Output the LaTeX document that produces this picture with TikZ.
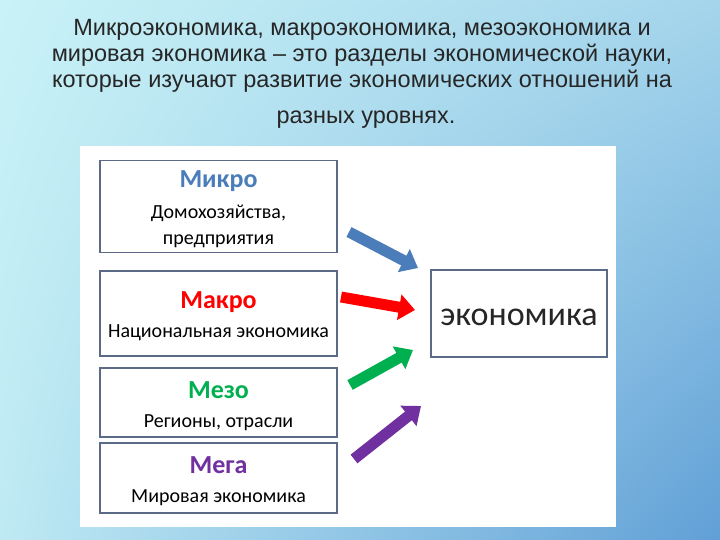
\documentclass[tikz,border=0pt]{standalone}
\usepackage{fontspec}
\setmainfont{Liberation Sans}
\newfontfamily\headfont{Liberation Sans}
\newfontfamily\boxfont{Carlito}
\usetikzlibrary{arrows.meta,shadings}

\definecolor{bgcyan}{HTML}{C9F2F7}
\definecolor{bgblue}{HTML}{609FD6}
\definecolor{bordergray}{HTML}{5B6A86}
\definecolor{mikroblue}{HTML}{4A7DBA}
\definecolor{makrored}{HTML}{FF0000}
\definecolor{mezogreen}{HTML}{00B050}
\definecolor{megapurple}{HTML}{7030A0}

\tikzset{
  levelbox/.style={draw=bordergray, line width=1.8pt, fill=white, minimum width=237pt, inner sep=0pt},
  leveltitle/.style={font=\boxfont\bfseries\fontsize{26}{26}\selectfont, inner sep=0pt},
  levelsub/.style={font=\boxfont\fontsize{20}{20}\selectfont, inner sep=0pt},
  headline/.style={font=\headfont\fontsize{23.5}{23.5}\selectfont, text=black!85, inner sep=0pt, anchor=base},
  blockarrow/.style={line width=11pt, -{Triangle[length=16pt,width=25pt]}}
}

\begin{document}
\begin{tikzpicture}[x=1pt,y=-1pt]
      \useasboundingbox (0,0) rectangle (720,540);
      \shade[upper left=bgcyan, upper right=bgcyan!65!bgblue, lower left=bgcyan!90!bgblue, lower right=bgblue] (0,0) rectangle (720,540);
      % heading
      \node[headline] (h1) at (362,36) {Микроэкономика, макроэкономика, мезоэкономика и};
      \node[headline] (h2) at (362,62) {мировая экономика – это разделы экономической науки,};
      \node[headline] (h3) at (362,88) {которые изучают развитие экономических отношений на};
      \node[headline] (h4) at (366,124) {разных уровнях.};
      % white panel
      \fill[white] (80,146) rectangle (616,527);
      % level boxes
      \node[levelbox, minimum height=92pt] (mikro) at (218.5,206.5) {};
      \node[levelbox, minimum height=85pt] (makro) at (218.5,313.5) {};
      \node[levelbox, minimum height=69pt] (mezo) at (218.5,402.5) {};
      \node[levelbox, minimum height=70pt] (mega) at (218.5,478) {};
      \node[leveltitle, text=mikroblue] (mikroT) at (218.5,181) {Микро};
      \node[levelsub] (mikroS1) at (218.5,213) {Домохозяйства,};
      \node[levelsub] (mikroS2) at (218.5,241) {предприятия};
      \node[leveltitle, text=makrored] (makroT) at (218.5,302) {Макро};
      \node[levelsub] (makroS) at (218.5,333) {Национальная экономика};
      \node[leveltitle, text=mezogreen] (mezoT) at (218.5,390) {Мезо};
      \node[levelsub] (mezoS) at (218.5,423) {Регионы, отрасли};
      \node[leveltitle, text=megapurple] (megaT) at (218.5,465) {Мега};
      \node[levelsub] (megaS) at (218.5,498) {Мировая экономика};
      % economy box
      \node[draw=bordergray, line width=1.2pt, minimum width=176pt, minimum height=87pt] (econ) at (519,313.5) {};
      \node[font=\boxfont\fontsize{34}{34}\selectfont, text=black!85, inner sep=0pt] (econT) at (519,317) {экономика};
      % arrows
      \coordinate (a1) at (349,232);
      \coordinate (b1) at (418,268);
      \coordinate (a2) at (341,297);
      \coordinate (b2) at (415,310);
      \coordinate (a3) at (350,385);
      \coordinate (b3) at (413,350);
      \coordinate (a4) at (354,459);
      \coordinate (b4) at (421,406);
      \draw[blockarrow, mikroblue] (a1) -- (b1);
      \draw[blockarrow, makrored] (a2) -- (b2);
      \draw[blockarrow, mezogreen] (a3) -- (b3);
      \draw[blockarrow, megapurple] (a4) -- (b4);
    \end{tikzpicture}
\end{document}
